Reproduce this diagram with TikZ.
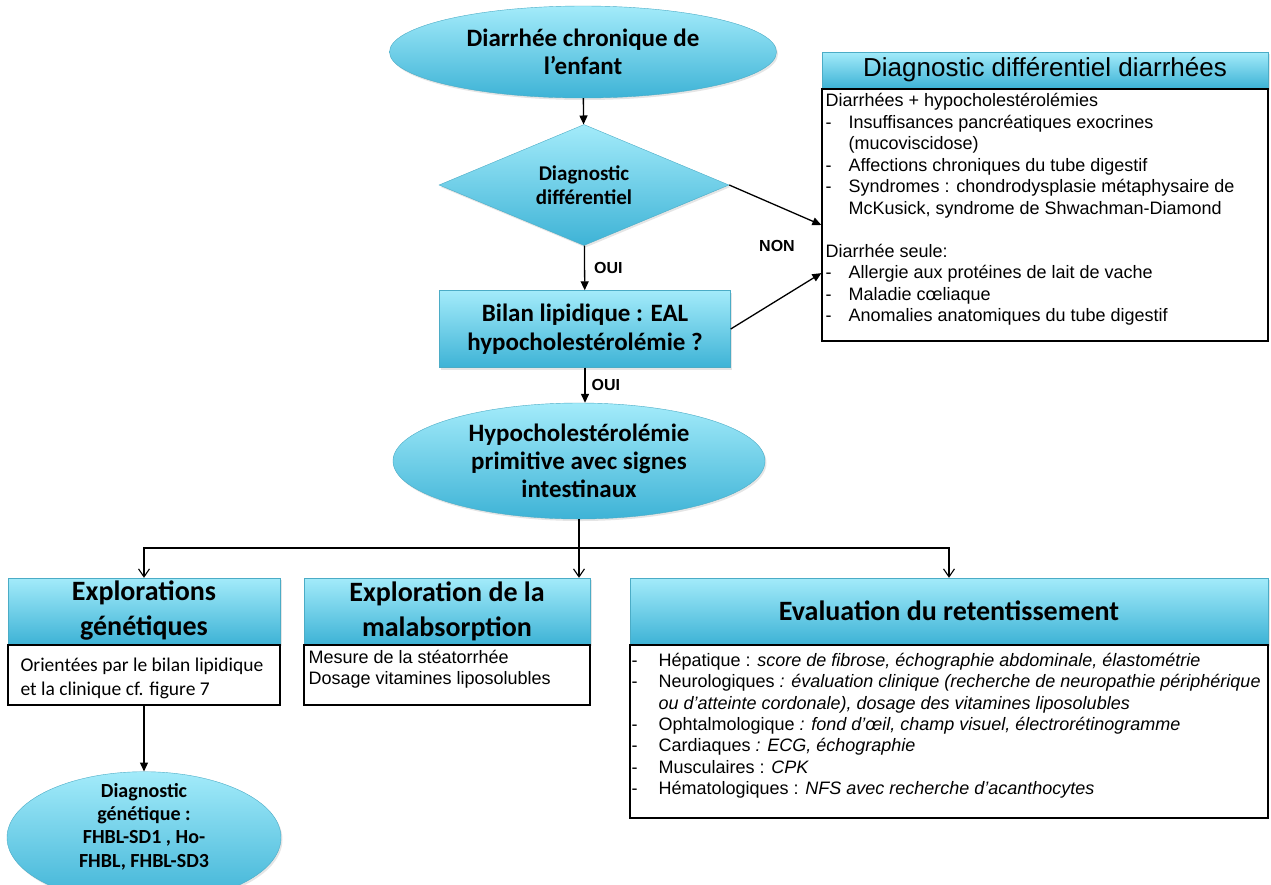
\documentclass[tikz,border=0pt]{standalone}
\usepackage{fontspec}
\setmainfont{Carlito}
\newfontfamily\arialfont{Liberation Sans}
\usetikzlibrary{shapes.geometric,arrows.meta,positioning,calc,shadows}
\definecolor{cyanTop}{HTML}{A3EBFA}
\definecolor{cyanBot}{HTML}{3EB3D6}
\definecolor{cyanEdge}{HTML}{4BACC6}
\newcommand{\tiret}[1][23pt]{\makebox[#1][l]{-}}
\tikzset{
pill/.style={ellipse, draw=cyanEdge, top color=cyanTop, bottom color=cyanBot, align=center, inner sep=0pt, font=\bfseries\fontsize{25}{28}\selectfont, drop shadow={opacity=0.2, shadow xshift=1.5pt, shadow yshift=-2pt}},
decision/.style={diamond, aspect=2.4, draw=cyanEdge, top color=cyanTop, bottom color=cyanBot, align=center, inner sep=0pt, minimum width=290pt, minimum height=121pt, font=\bfseries\fontsize{21}{24}\selectfont, drop shadow={opacity=0.2, shadow xshift=1.5pt, shadow yshift=-2pt}},
stepbox/.style={rectangle, draw=cyanEdge, top color=cyanTop, bottom color=cyanBot, align=center, inner sep=0pt, font=\bfseries\fontsize{25}{29}\selectfont, drop shadow={opacity=0.2, shadow xshift=1.5pt, shadow yshift=-2pt}},
headbox/.style={rectangle, draw=cyanEdge, top color=cyanTop, bottom color=cyanBot, align=center, inner sep=0pt, font=\bfseries\fontsize{28}{35}\selectfont, drop shadow={opacity=0.2, shadow xshift=1.5pt, shadow yshift=-2pt}},
listbox/.style={rectangle, draw=black, line width=1.3pt, fill=white, inner sep=0pt},
listtext/.style={anchor=north west, align=left, inner sep=0pt, font=\arialfont\fontsize{18}{21.5}\selectfont},
yesno/.style={font=\arialfont\bfseries\fontsize{16}{18}\selectfont, inner sep=0pt},
arrow/.style={-{Triangle[length=9pt, width=8pt]}, line width=1.3pt},
openarrow/.style={-{Straight Barb[length=8pt, width=11pt]}, line width=1.1pt}
}
\begin{document}
\begin{tikzpicture}[x=1pt,y=-1pt]
\useasboundingbox[fill=white] (0,0) rectangle (1271,884);
% main chain
\node[pill, minimum width=387pt, minimum height=92pt] (start) at (583,52) {Diarrhée chronique de\\l’enfant};
\node[decision] (diag) at (584,185) {Diagnostic\\différentiel};
\node[stepbox, minimum width=291pt, minimum height=77pt] (bilan) at (585,329) {Bilan lipidique : EAL\\hypocholestérolémie ?};
\node[pill, minimum width=372pt, minimum height=116pt] (hypo) at (579,461) {Hypocholestérolémie\\primitive avec signes\\intestinaux};

% differential diagnosis box
\node[headbox, font=\arialfont\fontsize{26}{30}\selectfont, minimum width=446pt, minimum height=36pt] (diffHead) at (1045,70) {Diagnostic différentiel diarrhées};
\node[listbox, minimum width=446pt, minimum height=252pt, anchor=north] (diffBody) at (diffHead.south) {};
\node[listtext] (diffText) at ($(diffBody.north west)+(4,5)$) {Diarrhées + hypocholestérolémies\\
\tiret Insuffisances pancréatiques exocrines\\
\hspace*{23pt}(mucoviscidose)\\
\tiret Affections chroniques du tube digestif\\
\tiret Syndromes : chondrodysplasie métaphysaire de\\
\hspace*{23pt}McKusick, syndrome de Shwachman-Diamond\\[21.5pt]
Diarrhée seule:\\
\tiret Allergie aux protéines de lait de vache\\
\tiret Maladie cœliaque\\
\tiret Anomalies anatomiques du tube digestif};

% three explorations
\node[headbox, minimum width=272pt, minimum height=66pt] (genHead) at (144,611) {Explorations\\génétiques};
\node[listbox, minimum width=272pt, minimum height=60pt, anchor=north] (genBody) at (genHead.south) {};
\node[listtext, font=\fontsize{19.5}{24}\selectfont] (genText) at ($(genBody.north west)+(13,14)$) {Orientées par le bilan lipidique\\et la clinique cf. figure 7};
\node[pill, align=none, font=\bfseries\fontsize{20}{23.3}\selectfont, minimum width=274pt, minimum height=124pt, below=66pt of genBody] (geneDiag)
  {\raisebox{10pt}[\height][\depth]{\begin{tabular}{@{}c@{}}Diagnostic\\génétique :\\FHBL-SD1 , Ho-\\FHBL, FHBL-SD3\end{tabular}}};

\node[headbox, minimum width=286pt, minimum height=66pt] (malHead) at (447,611) {Exploration de la\\malabsorption};
\node[listbox, minimum width=286pt, minimum height=60pt, anchor=north] (malBody) at (malHead.south) {};
\node[listtext, font=\arialfont\fontsize{18}{21}\selectfont] (malText) at ($(malBody.north west)+(5,6)$) {Mesure de la stéatorrhée\\Dosage vitamines liposolubles};

\node[headbox, minimum width=638pt, minimum height=66pt] (evalHead) at (949,611) {Evaluation du retentissement};
\node[listbox, minimum width=638pt, minimum height=173pt, anchor=north] (evalBody) at (evalHead.south) {};
\node[listtext, font=\arialfont\fontsize{18}{21.3}\selectfont] (evalText) at ($(evalBody.north west)+(2,9)$) {\tiret[27pt]Hépatique : \textit{score de fibrose, échographie abdominale, élastométrie}\\
\tiret[27pt]Neurologiques \textit{: évaluation clinique (recherche de neuropathie périphérique}\\
\hspace*{27pt}\textit{ou d’atteinte cordonale), dosage des vitamines liposolubles}\\
\tiret[27pt]Ophtalmologique \textit{: fond d’œil, champ visuel, électrorétinogramme}\\
\tiret[27pt]Cardiaques \textit{: ECG, échographie}\\
\tiret[27pt]Musculaires : \textit{CPK}\\
\tiret[27pt]Hématologiques : \textit{NFS avec recherche d’acanthocytes}};

% connectors
\draw[arrow] (start) -- (diag);
\draw[arrow] (diag) -- node[yesno, right=9pt] (ouiA) {OUI} (bilan);
\draw[arrow] (bilan.south) -- node[yesno, right=6pt] (ouiB) {OUI} (bilan.south |- hypo.north);
\draw[arrow] (diag.east) -- ($(diffBody.north west)!0.54!(diffBody.south west)$);
\draw[arrow] (bilan.east) -- ($(diffBody.north west)!0.73!(diffBody.south west)$);
\node[yesno] (non) at (777,246) {NON};
\coordinate (fork) at (579,548);
\draw[line width=1.1pt] (hypo.south) -- (fork);
\draw[openarrow] (fork) -| (genHead.north);
\draw[openarrow] (fork) -- (fork |- malHead.north);
\draw[openarrow] (fork) -| (evalHead.north);
\draw[arrow] (genBody) -- (geneDiag);
\end{tikzpicture}
\end{document}
